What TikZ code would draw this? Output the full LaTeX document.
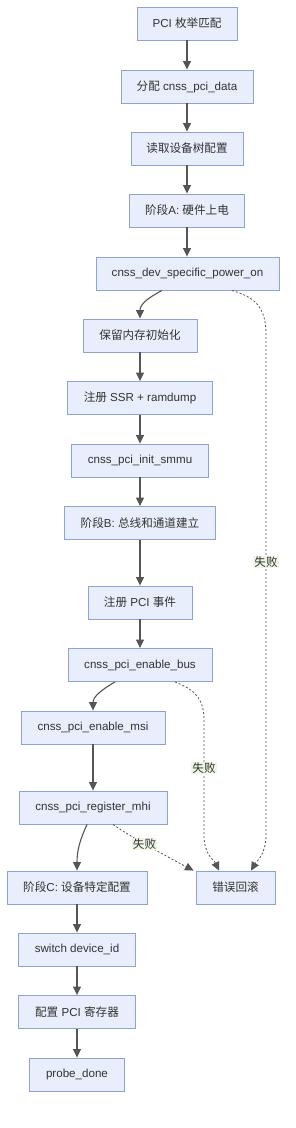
\documentclass[tikz,border=0pt]{standalone}
\usepackage{fontspec}
\setmainfont{Liberation Sans}
\newfontfamily\cjkfont{Noto Sans CJK SC}
\newcommand\zh[1]{{\cjkfont #1}}
\usetikzlibrary{arrows.meta}
\definecolor{boxfill}{HTML}{E8EEFB}
\definecolor{boxline}{HTML}{8FA3CF}
\definecolor{edgecol}{HTML}{555555}
\definecolor{txt}{HTML}{333333}
\definecolor{lblbg}{HTML}{EEF6E6}
\begin{document}
\begin{tikzpicture}[x=1pt,y=-1pt,
  box/.style={draw=boxline, fill=boxfill, line width=0.9pt, minimum height=33pt,
    inner sep=0pt, text=txt, font=\fontsize{11.6}{14}\selectfont, minimum width=#1},
  arr/.style={draw=edgecol, line width=1.1pt, -{Triangle[length=8.5pt,width=8pt]}},
  fail/.style={draw=edgecol, line width=0.8pt, dash pattern=on 2pt off 2pt,
    -{Triangle[length=8.5pt,width=8pt]}},
  lbl/.style={fill=lblbg, text=txt, inner sep=1pt, font=\fontsize{11.6}{14}\selectfont}
]
\fill[white] (0,0) rectangle (295,1128);
\useasboundingbox (0,0) rectangle (295,1128);

\node[box=100] (n1) at (187,23.5) {PCI \zh{枚举匹配}};
\node[box=132] (n2) at (187,86.5) {\zh{分配} cnss\_pci\_data};
\node[box=112] (n3) at (187,148.5) {\zh{读取设备树配置}};
\node[box=115] (n4) at (187,210.5) {\zh{阶段}A: \zh{硬件上电}};
\node[box=183] (n5) at (187.5,273.5) {cnss\_dev\_specific\_power\_on};
\node[box=114] (n6) at (140,335.5) {\zh{保留内存初始化}};
\node[box=145] (n7) at (140,398) {\zh{注册} SSR + ramdump};
\node[box=137] (n8) at (140,460.5) {cnss\_pci\_init\_smmu};
\node[box=151] (n9) at (140,523) {\zh{阶段}B: \zh{总线和通道建立}};
\node[box=104] (n10) at (140,602.5) {\zh{注册} PCI \zh{事件}};
\node[box=144] (n11) at (140,665) {cnss\_pci\_enable\_bus};
\node[box=144] (n12) at (93,727.5) {cnss\_pci\_enable\_msi};
\node[box=148] (n13) at (93,807.5) {cnss\_pci\_register\_mhi};
\node[box=140] (n14) at (77,887.5) {\zh{阶段}C: \zh{设备特定配置}};
\node[box=79] (n15) at (235.5,887.5) {\zh{错误回滚}};
\node[box=117] (n16) at (77,949.5) {switch device\_id};
\node[box=117] (n17) at (77,1012) {\zh{配置} PCI \zh{寄存器}};
\node[box=95] (n18) at (77,1074.5) {probe\_done};

\draw[arr] (n1) -- (n2);
\draw[arr] (n2) -- (n3);
\draw[arr] (n3) -- (n4);
\draw[arr] (n4.south) -- (n4.south |- n5.north);
\draw[arr] (n6) -- (n7);
\draw[arr] (n7) -- (n8);
\draw[arr] (n8) -- (n9);
\draw[arr] (n9) -- (n10);
\draw[arr] (n10) -- (n11);
\draw[arr] (n12) -- (n13);
\draw[arr] (n14) -- (n16);
\draw[arr] (n16) -- (n17);
\draw[arr] (n17) -- (n18);

\draw[arr] ([xshift=-25.5pt]n5.south) .. controls (148,298) and (140,304) .. (n6.north);
\draw[arr] ([xshift=-25pt]n11.south) .. controls (101,690) and (93,697) .. (n12.north);
\draw[arr] ([xshift=-6pt]n13.south) .. controls (80,840) and (77,850) .. (n14.north);

\coordinate (a1) at (266,335);
\coordinate (a2) at (266,835);
\coordinate (b1) at (204,720);
\coordinate (b2) at (204,835);

\draw[fail] ([xshift=44.5pt]n5.south) .. controls (258,298) and (266,310) .. (a1)
  -- node[lbl,pos=0.454] {\zh{失败}} (a2)
  .. controls (266,855) and (256,862) .. ([xshift=15.5pt]n15.north);
\draw[fail] ([xshift=35pt]n11.south) .. controls (196,690) and (204,700) .. (b1)
  -- node[lbl,pos=0.417] {\zh{失败}} (b2)
  .. controls (204,855) and (214,860) .. ([xshift=-16.5pt]n15.north);
\draw[fail] ([xshift=20pt]n13.south) .. controls (132,838) and (170,858) .. node[lbl,pos=0.42] {\zh{失败}} ([xshift=-42pt]n15.north);
\end{tikzpicture}
\end{document}
